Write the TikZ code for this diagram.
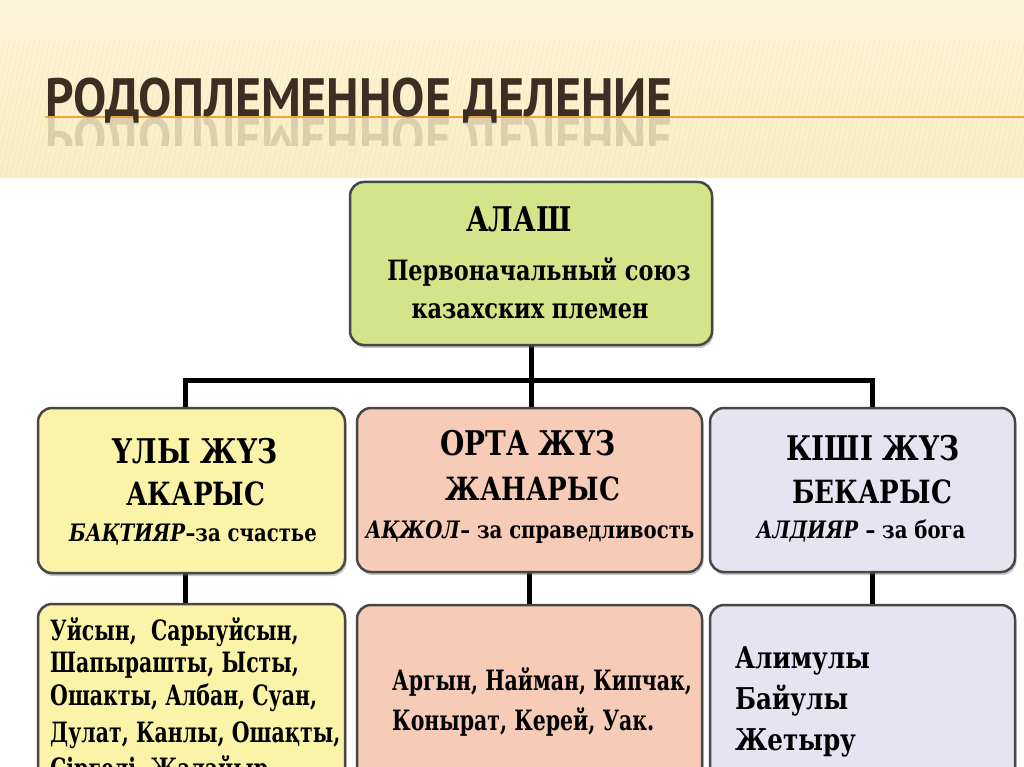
\documentclass[tikz,border=0pt]{standalone}
\usepackage{fontspec}
\setmainfont{DejaVu Serif}[FakeStretch=0.82]
\newfontfamily\listfont{DejaVu Serif}[FakeStretch=0.73]
\newfontfamily\topfont{DejaVu Serif}[FakeStretch=0.8]
\newfontfamily\titlefont{PT Sans}[FakeStretch=0.922]
\usetikzlibrary{shadows}
\definecolor{bandtop}{HTML}{FDF5DB}
\definecolor{bandbot}{HTML}{FBEEC4}
\definecolor{bandline}{HTML}{E9D9A6}
\definecolor{titlecol}{HTML}{3B2E22}
\definecolor{titleline}{HTML}{E9A63A}
\definecolor{boxline}{HTML}{474747}
\definecolor{alashgreen}{HTML}{D4E48A}
\definecolor{ulyyellow}{HTML}{FBF4A8}
\definecolor{ortapink}{HTML}{F6CBB8}
\definecolor{kishilav}{HTML}{E6E4F1}
\tikzset{
  tbox/.style={draw=boxline, line width=2.5pt, rounded corners=14pt, inner sep=0pt,
    drop shadow={shadow xshift=1.5pt, shadow yshift=-3pt, opacity=0.35, fill=black!60}},
  conn/.style={line width=5pt, black, line join=miter},
  tbig/.style={anchor=base, inner sep=0pt, font=\bfseries\fontsize{34}{34}\selectfont},
  tmid/.style={anchor=base, inner sep=0pt, font=\bfseries\fontsize{32}{32}\selectfont},
  tsm/.style={anchor=base, inner sep=0pt, font=\bfseries\fontsize{24}{24}\selectfont},
  ttop/.style={anchor=base, inner sep=0pt, font=\topfont\bfseries\fontsize{28}{28}\selectfont},
  tlist/.style={anchor=base west, inner sep=0pt, font=\listfont\bfseries\fontsize{28}{28}\selectfont},
  tlistr/.style={anchor=base west, inner sep=0pt, font=\bfseries\fontsize{30}{30}\selectfont},
  ttitle/.style={anchor=base west, inner sep=0pt, text=titlecol, font=\titlefont\bfseries\fontsize{54}{54}\selectfont},
}
\begin{document}
\begin{tikzpicture}[x=1pt,y=-1pt]
\useasboundingbox (0,0) rectangle (1024,767);
\fill[white] (0,0) rectangle (1024,767);
% title band
\shade[top color=bandtop, bottom color=bandbot] (0,0) rectangle (1024,178);
\begin{scope}
\clip (0,40) rectangle (1024,178);
\foreach \i in {0,5,...,1060} \draw[bandline, line width=0.6pt, opacity=0.4] (\i,40) -- (\i-30,178);
\end{scope}
\draw[titleline, line width=2.5pt] (45,117) -- (1024,117);
\node[ttitle] (title) at (45,117) {РОДОПЛЕМЕННОЕ ДЕЛЕНИЕ};
\begin{scope}
\clip (0,119) rectangle (1024,146);
\node[ttitle, transform shape, yscale=-1, text opacity=0.16] (titlerefl) at (45,119) {РОДОПЛЕМЕННОЕ ДЕЛЕНИЕ};
\end{scope}
% connectors
\coordinate (jl) at (185,380);
\coordinate (jm) at (531,380);
\coordinate (jr) at (872,380);
\draw[conn] (531,300) -- (jm);
\draw[conn] (185,415) -- (jl) -- (jr) -- (872,415);
\draw[conn] (jm) -- (531,415);
\draw[conn] (185,560) -- (185,615);
\draw[conn] (529,560) -- (529,615);
\draw[conn] (872,560) -- (872,615);
% top box
\node[tbox, fill=alashgreen, minimum width=362, minimum height=163] (alash) at (531,263.5) {};
% middle boxes
\node[tbox, fill=ulyyellow, minimum width=307, minimum height=165] (uly) at (191.5,490.5) {};
\node[tbox, fill=ortapink, minimum width=345, minimum height=164] (orta) at (529.5,490) {};
\node[tbox, fill=kishilav, minimum width=305, minimum height=164] (kishi) at (862.5,490) {};
% bottom boxes
\node[tbox, fill=ulyyellow, minimum width=307, minimum height=216] (ulyb) at (191.5,712) {};
\node[tbox, fill=ortapink, minimum width=345, minimum height=216] (ortab) at (529.5,713) {};
\node[tbox, fill=kishilav, minimum width=305, minimum height=216] (kishib) at (862.5,713) {};
% top text
\node[tbig] (a1) at (519,232) {АЛАШ};
\node[ttop] (a2) at (539,280) {Первоначальный союз};
\node[ttop] (a3) at (530,318) {казахских племен};
% left middle
\node[tbig] (u1) at (195,463) {ҮЛЫ ЖҮЗ};
\node[tmid] (u2) at (196,505) {АКАРЫС};
\node[tsm] (u3) at (193,541) {\textit{БАҚТИЯР}–за счастье};
% middle middle
\node[tbig] (o1) at (528,455) {ОРТА ЖҮЗ};
\node[tmid] (o2) at (533,500) {ЖАНАРЫС};
\node[tsm] (o3) at (530,538) {\textit{АҚЖОЛ}– за справедливость};
% right middle
\node[tbig] (k1) at (873,460) {КІШІ ЖҮЗ};
\node[tmid] (k2) at (872,503) {БЕКАРЫС};
\node[tsm] (k3) at (861,538) {\textit{АЛДИЯР} – за бога};
% left list
\node[tlist] (l1) at (50,640) {Уйсын,\ \ Сарыуйсын,};
\node[tlist] (l2) at (50,672) {Шапырашты, Ысты,};
\node[tlist] (l3) at (50,705) {Ошакты, Албан, Суан,};
\node[tlist] (l4) at (50,742) {Дулат, Канлы, Ошақты,};
\node[tlist] (l5) at (50,778) {Сіргелі, Жалайыр};
% middle list
\node[tlist] (m1) at (392,690) {Аргын, Найман, Кипчак,};
\node[tlist] (m2) at (392,730) {Конырат, Керей, Уак.};
% right list
\node[tlistr] (r1) at (735,668) {Алимулы};
\node[tlistr] (r2) at (735,709) {Байулы};
\node[tlistr] (r3) at (735,750) {Жетыру};
\end{tikzpicture}
\end{document}
